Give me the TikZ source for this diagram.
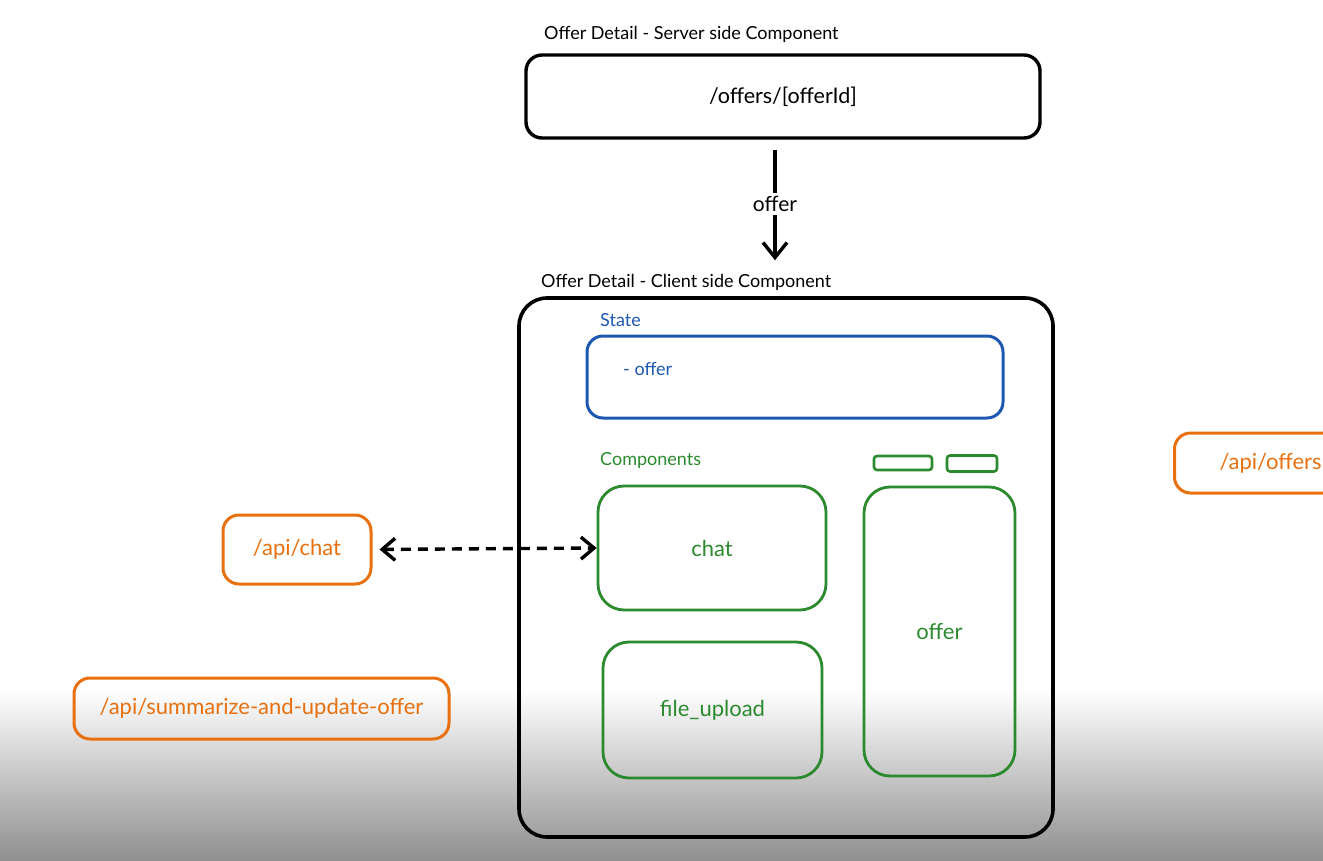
\documentclass[tikz,border=0pt]{standalone}
\usepackage{fontspec}
\setmainfont{Lato}
\usetikzlibrary{arrows.meta}
\definecolor{exblue}{HTML}{1C58B0}
\definecolor{exgreen}{HTML}{2B8A2E}
\definecolor{exorange}{HTML}{E8700F}
\tikzset{
  box/.style={draw, rounded corners=16, line width=3.4pt, inner sep=0pt},
  srvbox/.style={box, font=\fontsize{21.5}{25}\selectfont},
  bluebox/.style={box, draw=exblue, line width=3pt, text=exblue},
  greenbox/.style={box, draw=exgreen, line width=2.8pt, text=exgreen, font=\fontsize{22}{26}\selectfont},
  apibox/.style={box, draw=exorange, line width=3pt, text=exorange, font=\fontsize{22}{26}\selectfont},
  caption/.style={anchor=west, inner sep=0pt, font=\fontsize{18}{21}\selectfont},
  arr/.style={line width=3.4pt, -{Straight Barb[length=15pt,width=24pt,line width=3.4pt]}},
}
\begin{document}
\begin{tikzpicture}[x=1pt,y=-1pt]
\useasboundingbox (0,0) rectangle (1323,861);
% screen fade at the bottom
\shade[top color=white, middle color=black!8, bottom color=black!44] (0,690) rectangle (1323,861);

% server side
\node[caption] (srvcap) at (544,34) {Offer Detail - Server side Component};
\node[srvbox, minimum width=514, minimum height=83] (server) at (783,96.5) {/offers/[offerId]};

% client side
\node[caption] (clicap) at (541,282) {Offer Detail - Client side Component};
\node[box, rounded corners=28, line width=3.6pt, minimum width=534, minimum height=539] (client) at (786,567.5) {};

\node[caption, text=exblue] (statecap) at (600,320) {State};
\node[bluebox, minimum width=416, minimum height=82] (state) at (795,377) {};
\node[caption, text=exblue] (stateitem) at (623,369) {- offer};

\node[caption, text=exgreen] (compcap) at (600,461) {Components};
\node[greenbox, rounded corners=26, minimum width=228, minimum height=124] (chat) at (712,548) {chat};
\node[greenbox, rounded corners=26, minimum width=219, minimum height=136] (upload) at (712.5,710) {file\_upload};
\node[greenbox, rounded corners=26, minimum width=151, minimum height=289] (offer) at (939.5,631.5) {offer};
\node[greenbox, rounded corners=3, line width=2.6pt, minimum width=58, minimum height=14] (tabA) at (903,463) {};
\node[greenbox, rounded corners=3, line width=2.6pt, minimum width=50, minimum height=16] (tabB) at (972,463.5) {};

% api routes
\node[apibox, minimum width=148, minimum height=69] (apichat) at (297,549.5) {/api/chat};
\node[apibox, minimum width=375, minimum height=61] (apisum) at (261.5,708.5) {/api/summarize-and-update-offer};
\node[apibox, anchor=west, minimum height=60] (apioffers) at (1173,463) {\hspace*{45pt}/api/offers\hspace*{30pt}};

% connectors
\draw[arr, shorten <=10, shorten >=36] ([xshift=-8]server.south) -- node[pos=0.41, fill=white, inner sep=3pt, font=\fontsize{21}{25}\selectfont]{offer} ([xshift=-11]client.north);
\draw[line width=3.4pt, dashed, dash pattern=on 10pt off 7pt, {Straight Barb[length=13pt,width=22pt,line width=3.4pt]}-{Straight Barb[length=13pt,width=22pt,line width=3.4pt]}, shorten <=7] (apichat.east) -- (chat.west);
\end{tikzpicture}
\end{document}
